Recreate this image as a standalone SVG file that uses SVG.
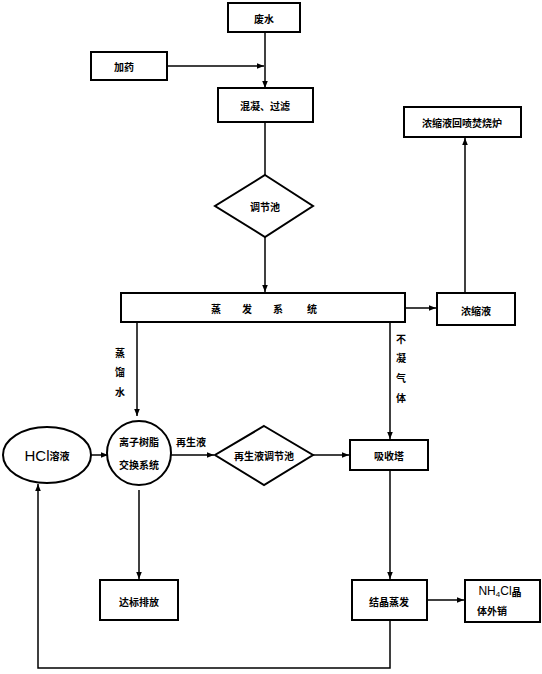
<svg xmlns="http://www.w3.org/2000/svg" width="542" height="674" viewBox="0 0 542 674">
<defs>
<marker id="ah" viewBox="0 0 10 10" refX="10" refY="5" markerWidth="7" markerHeight="7" orient="auto" markerUnits="userSpaceOnUse"><path d="M0,1 L10,5 L0,9 z" fill="#000"/></marker>
<style>
.box{fill:#fff;stroke:#000;stroke-width:2}
.t{font-family:"Noto Sans CJK SC","Liberation Sans",sans-serif;font-size:10px;font-weight:bold;fill:#000;text-anchor:middle;dominant-baseline:central}
.c{fill:none;stroke:#000;stroke-width:1.5}
</style>
</defs>
<rect width="542" height="674" fill="#fff"/>
<g id="connectors">
<path class="c" d="M265,32 V88" marker-end="url(#ah)"/>
<path class="c" d="M167,66 H264" marker-end="url(#ah)"/>
<path class="c" d="M265,122 V175"/>
<path class="c" d="M265,237 V292" marker-end="url(#ah)"/>
<path class="c" d="M405,308 H436" marker-end="url(#ah)"/>
<path class="c" d="M465,293 V138" marker-end="url(#ah)"/>
<path class="c" d="M137,322 V416" marker-end="url(#ah)"/>
<path class="c" d="M390,322 V439" marker-end="url(#ah)"/>
<path class="c" d="M91,455 H108" marker-end="url(#ah)"/>
<path class="c" d="M170,455 H214" marker-end="url(#ah)"/>
<path class="c" d="M313,455 H349" marker-end="url(#ah)"/>
<path class="c" d="M390,470 V579" marker-end="url(#ah)"/>
<path class="c" d="M139,490 V579" marker-end="url(#ah)"/>
<path class="c" d="M427,600 H464" marker-end="url(#ah)"/>
<path class="c" d="M390,620 V668 H38 V484" marker-end="url(#ah)"/>
</g>
<g id="n-waste"><rect class="box" x="228" y="3" width="72" height="29"/><text class="t" x="264" y="18">废水</text></g>
<g id="n-dose"><rect class="box" x="91" y="52" width="76" height="28"/><text class="t" x="124" y="66">加药</text></g>
<g id="n-coag"><rect class="box" x="218" y="88" width="95" height="34"/><text class="t" x="265" y="105">混凝、过滤</text></g>
<g id="n-tank"><polygon class="box" points="265,175 313,206 265,237 215,206"/><text class="t" x="265" y="206">调节池</text></g>
<g id="n-evap"><rect class="box" x="121" y="293" width="284" height="29"/><text class="t" y="308"><tspan x="216">蒸</tspan><tspan x="247">发</tspan><tspan x="278">系</tspan><tspan x="312">统</tspan></text></g>
<g id="n-conc"><rect class="box" x="437" y="293" width="78" height="32"/><text class="t" x="476" y="310">浓缩液</text></g>
<g id="n-inc"><rect class="box" x="404" y="107" width="117" height="30"/><text class="t" x="462" y="122">浓缩液回喷焚烧炉</text></g>
<g id="l-water"><text class="t" x="120" y="352">蒸</text><text class="t" x="120" y="371">馏</text><text class="t" x="120" y="391">水</text></g>
<g id="l-gas"><text class="t" x="401" y="338">不</text><text class="t" x="401" y="357">凝</text><text class="t" x="401" y="377">气</text><text class="t" x="401" y="397">体</text></g>
<g id="n-hcl"><ellipse class="box" cx="47" cy="455" rx="44" ry="28"/><text class="t" x="47" y="455"><tspan font-family="Liberation Sans,sans-serif" font-weight="normal" font-size="15">HCl</tspan>溶液</text></g>
<g id="n-ion"><circle class="box" cx="139" cy="453" r="32"/><text class="t" x="139" y="441">离子树脂</text><text class="t" x="139" y="464">交换系统</text></g>
<text class="t" x="191" y="441" font-size="9">再生液</text>
<g id="n-regen"><polygon class="box" points="264,426 313,455 264,485 215,455"/><text class="t" x="264" y="455">再生液调节池</text></g>
<g id="n-abs"><rect class="box" x="350" y="440" width="78" height="30"/><text class="t" x="389" y="455">吸收塔</text></g>
<g id="n-disc"><rect class="box" x="100" y="580" width="78" height="40"/><text class="t" x="139" y="601">达标排放</text></g>
<g id="n-cryst"><rect class="box" x="352" y="580" width="75" height="40"/><text class="t" x="389" y="601">结晶蒸发</text></g>
<g id="n-nh4cl"><rect class="box" x="465" y="580" width="75" height="42"/><text class="t" x="500" y="591"><tspan font-family="Liberation Sans,sans-serif" font-weight="normal" font-size="12">NH</tspan><tspan font-family="Liberation Sans,sans-serif" font-weight="normal" font-size="8" dy="3">4</tspan><tspan font-family="Liberation Sans,sans-serif" font-weight="normal" font-size="12" dy="-3">Cl</tspan>晶</text><text class="t" x="492" y="610">体外销</text></g>
</svg>
